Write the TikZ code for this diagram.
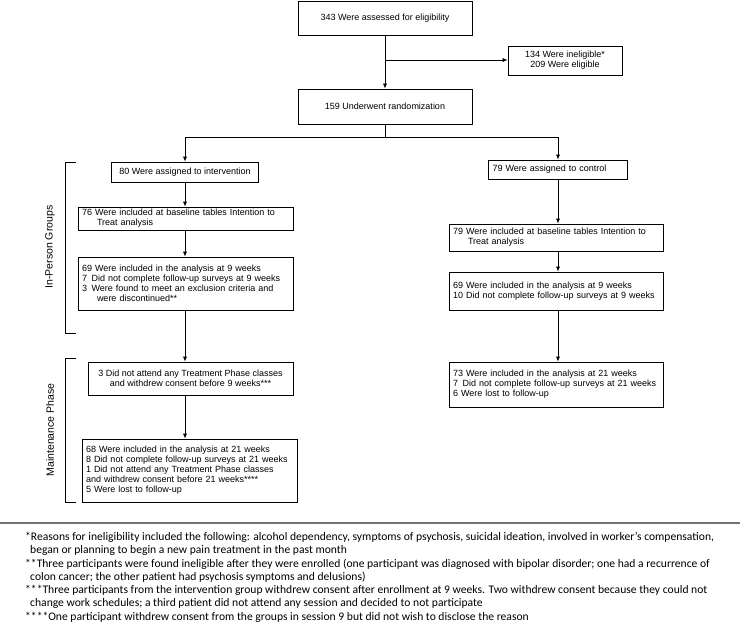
\documentclass[tikz,border=0pt]{standalone}
\usepackage{fontspec}
\setmainfont{Liberation Sans}
\newfontfamily\notefont{Carlito}
\usetikzlibrary{arrows.meta}
\begin{document}
\begin{tikzpicture}[x=1pt,y=-1pt,
  box/.style={draw, line width=0.7pt, inner xsep=4pt, inner ysep=2pt,
    font=\fontsize{9}{10}\selectfont, align=left},
  cbox/.style={box, align=center},
  arr/.style={-{Latex[length=5pt,width=4pt]}, line width=0.7pt},
  brk/.style={line width=0.7pt},
  side/.style={rotate=90, font=\fontsize{10.5}{12}\selectfont},
]
\useasboundingbox (0,0) rectangle (740,626);

% top
\node[cbox, minimum width=174pt, minimum height=34pt] (A) at (385,18) {343 Were assessed for eligibility};
\node[cbox, minimum width=114pt, minimum height=29pt] (B) at (565,60.5) {134 Were ineligible*\\209 Were eligible};
\node[cbox, minimum width=174pt, minimum height=35pt] (C) at (385,106.5) {159 Underwent randomization};

% arms
\node[cbox, minimum width=147pt, minimum height=20pt] (D) at (185,172) {80 Were assigned to intervention};
\node[box, text width=131pt, minimum height=19pt] (E) at (558,169.5) {79 Were assigned to control};

\node[box, text width=207pt, minimum height=23pt] (F) at (185.5,218.5) {76 Were included at baseline tables Intention to\\\hspace*{15pt}Treat analysis};
\node[box, text width=206pt, minimum height=27pt] (G) at (556,237.5) {79 Were included at baseline tables Intention to\\\hspace*{15pt}Treat analysis};

\node[box, text width=207pt, minimum height=53pt] (H) at (185.5,283.5) {69 Were included in the analysis at 9 weeks\\7\hspace{4.5pt}Did not complete follow-up surveys at 9 weeks\\3\hspace{4.5pt}Were found to meet an exclusion criteria and\\\hspace*{15pt}were discontinued**};
\node[box, text width=206pt, minimum height=38pt] (I) at (556,291) {69 Were included in the analysis at 9 weeks\\10 Did not complete follow-up surveys at 9 weeks};

\node[cbox, minimum width=205pt, minimum height=33pt] (J) at (190.5,378.5) {3 Did not attend any Treatment Phase classes\\and withdrew consent before 9 weeks***};
\node[box, text width=207pt, minimum height=63pt] (K) at (189.5,470.5) {68 Were included in the analysis at 21 weeks\\8 Did not complete follow-up surveys at 21 weeks\\1 Did not attend any Treatment Phase classes\\and withdrew consent before 21 weeks****\\5 Were lost to follow-up};
\node[box, text width=206pt, minimum height=45pt] (L) at (556,384.5) {73 Were included in the analysis at 21 weeks\\7\hspace{4.5pt}Did not complete follow-up surveys at 21 weeks\\6 Were lost to follow-up};

% connectors
\coordinate (e) at (385,60);
\coordinate (j) at (385,137);
\draw[arr] (A.south) -- (C.north);
\draw[arr] (e) -- (B.west |- e);
\draw[line width=0.7pt] (C.south) -- (j);
\draw[arr] (j) -| (D.north);
\draw[arr] (j) -| (E.north);
\draw[arr] (D.south) -- (D.south |- F.north);
\draw[arr] (D.south |- F.south) -- (D.south |- H.north);
\draw[arr] (D.south |- H.south) -- (D.south |- J.north);
\draw[arr] (D.south |- J.south) -- (D.south |- K.north);
\draw[arr] (E.south) -- (E.south |- G.north);
\draw[arr] (E.south |- G.south) -- (E.south |- I.north);
\draw[arr] (E.south |- I.south) -- (E.south |- L.north);

% brackets
\draw[brk] (76,162) -- (65,162) -- (65,333) -- (76,333);
\draw[brk] (76,358) -- (65,358) -- (65,502) -- (76,502);
\node[side] (s1) at (50,247) {In-Person Groups};
\node[side] (s2) at (50,430) {Maintenance Phase};

% footnotes
\draw[line width=1.5pt, black!55] (0,523) -- (740,523);
\node[anchor=north west, align=left, inner sep=0pt, font=\notefont\fontsize{11.6}{13.3}\selectfont] (notes) at (25,532) {%
*Reasons for ineligibility included the following: alcohol dependency, symptoms of psychosis, suicidal ideation, involved in worker’s compensation,\\
\hspace*{5pt}began or planning to begin a new pain treatment in the past month\\
**Three participants were found ineligible after they were enrolled (one participant was diagnosed with bipolar disorder; one had a recurrence of\\
\hspace*{5pt}colon cancer; the other patient had psychosis symptoms and delusions)\\
***Three participants from the intervention group withdrew consent after enrollment at 9 weeks. Two withdrew consent because they could not\\
\hspace*{5pt}change work schedules; a third patient did not attend any session and decided to not participate\\
****One participant withdrew consent from the groups in session 9 but did not wish to disclose the reason};
\end{tikzpicture}
\end{document}
